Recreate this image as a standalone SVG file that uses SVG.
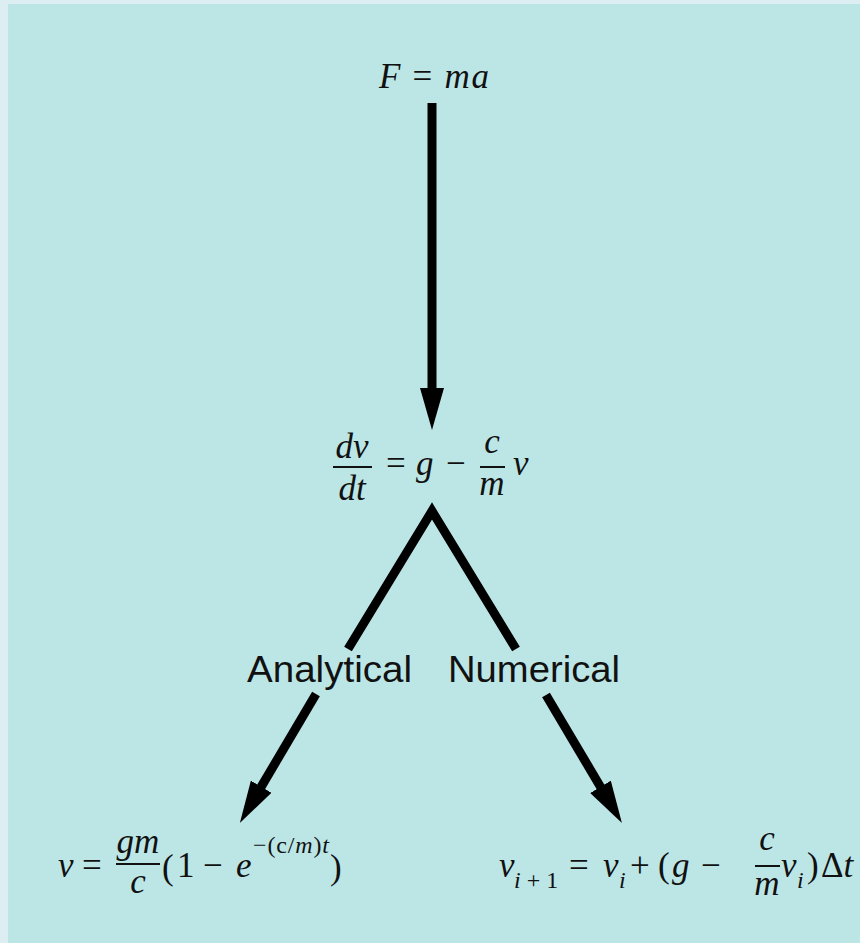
<svg xmlns="http://www.w3.org/2000/svg" width="860" height="943" viewBox="0 0 860 943">
<style>
.m{font-family:"Liberation Serif","Times New Roman",serif;font-size:35px;fill:#111}
.i{font-style:italic}
.s{font-size:24px}
.lab{font-family:"Liberation Sans",Arial,sans-serif;font-size:37px;fill:#111}
.sh{stroke:#000;stroke-width:9;fill:none}
.bar{stroke:#111;stroke-width:2}
</style>
<defs>
<marker id="ah" viewBox="0 0 42 24" refX="1" refY="12" markerWidth="42" markerHeight="24" markerUnits="userSpaceOnUse" orient="auto">
<path d="M0,0 L42,12 L0,24 Z" fill="#000"/>
</marker>
</defs>
<rect x="0" y="0" width="860" height="943" fill="#dceef1"/>
<rect x="8" y="4" width="852" height="939" fill="#bce6e6"/>

<g id="connectors">
<line class="sh" x1="432" y1="103" x2="432" y2="389" marker-end="url(#ah)"/>
<polyline class="sh" points="348,649 432,511 516,649" stroke-linejoin="miter"/>
<line class="sh" x1="316" y1="694" x2="260.7" y2="787.6" marker-end="url(#ah)"/>
<line class="sh" x1="546" y1="695" x2="601" y2="787.7" marker-end="url(#ah)"/>
</g>

<g id="n-newton">
<text class="m" x="434" y="88" text-anchor="middle" font-size="38" textLength="110" lengthAdjust="spacing"><tspan class="i">F</tspan> = <tspan class="i">ma</tspan></text>
</g>

<g id="n-ode">
<text class="m i" x="352" y="458" text-anchor="middle">dv</text>
<line class="bar" x1="333" y1="467" x2="372" y2="467"/>
<text class="m i" x="352" y="500" text-anchor="middle">dt</text>
<text class="m" x="386" y="475">=</text>
<text class="m i" x="416" y="475">g</text>
<text class="m" x="446" y="475">−</text>
<text class="m i" x="492" y="453" text-anchor="middle">c</text>
<line class="bar" x1="480" y1="467" x2="505" y2="467"/>
<text class="m i" x="492" y="495" text-anchor="middle">m</text>
<text class="m i" x="513" y="475">v</text>
</g>

<g id="n-analytical-label">
<text class="lab" x="247" y="682" textLength="165" lengthAdjust="spacingAndGlyphs">Analytical</text>
</g>
<g id="n-numerical-label">
<text class="lab" x="448" y="682" textLength="172" lengthAdjust="spacingAndGlyphs">Numerical</text>
</g>

<g id="n-analytical">
<text class="m i" x="58" y="877">v</text>
<text class="m" x="82" y="877">=</text>
<text class="m i" x="138" y="853" text-anchor="middle">gm</text>
<line class="bar" x1="116" y1="864" x2="160" y2="864"/>
<text class="m i" x="138" y="893" text-anchor="middle">c</text>
<text class="m" x="162" y="879" font-size="42">(</text>
<text class="m" x="177" y="877">1</text>
<text class="m" x="203" y="877">−</text>
<text class="m i" x="236" y="877">e</text>
<text class="m s" x="253" y="853" textLength="76" lengthAdjust="spacing">−(c/<tspan class="i">m</tspan>)<tspan class="i">t</tspan></text>
<text class="m" x="330" y="879" font-size="42">)</text>
</g>

<g id="n-numerical">
<text class="m i" x="499" y="877">v</text>
<text class="m s i" x="514" y="888"><tspan>i</tspan><tspan font-style="normal"> + 1</tspan></text>
<text class="m" x="569" y="877">=</text>
<text class="m i" x="603" y="877">v</text>
<text class="m s i" x="619" y="888">i</text>
<text class="m" x="630" y="877">+</text>
<text class="m" x="658" y="877">(</text>
<text class="m i" x="672" y="877">g</text>
<text class="m" x="701" y="877">−</text>
<text class="m i" x="767" y="850" text-anchor="middle">c</text>
<line class="bar" x1="755" y1="866" x2="780" y2="866"/>
<text class="m i" x="767" y="895" text-anchor="middle">m</text>
<text class="m i" x="781" y="877">v</text>
<text class="m s i" x="797" y="888">i</text>
<text class="m" x="807" y="877">)</text>
<text class="m" x="821" y="877">Δ<tspan class="i">t</tspan></text>
</g>
</svg>
